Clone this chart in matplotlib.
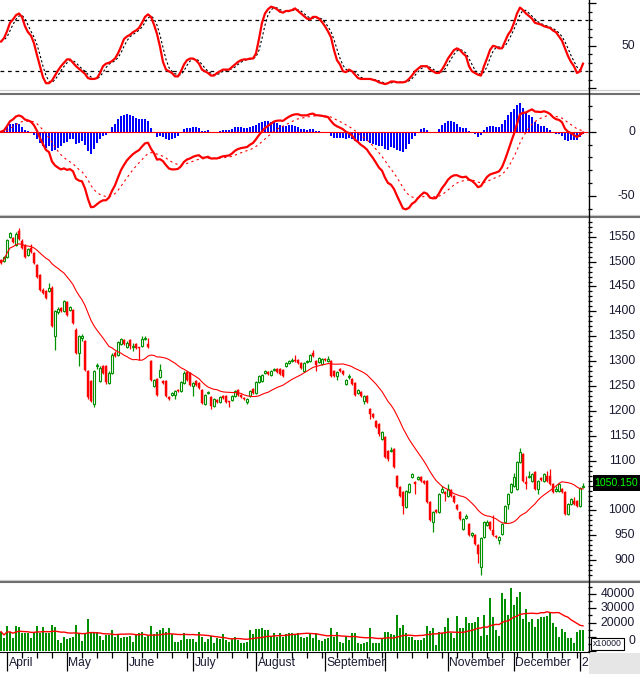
import numpy as np
import pandas as pd
import matplotlib
matplotlib.use('Agg')
import matplotlib.pyplot as plt
from matplotlib.lines import Line2D
from matplotlib.patches import Rectangle

plt.rcParams['font.family'] = ['Liberation Sans', 'DejaVu Sans']

# daily candles, end of March -> first days of January
opens = [
    1503, 1502, 1510, 1550, 1547, 1533, 1562, 1542, 1533, 1513,
    1527, 1517, 1493, 1473, 1443, 1440, 1440, 1447, 1350, 1398,
    1407, 1400, 1418, 1403, 1402, 1363, 1316, 1346, 1340, 1280,
    1260, 1213, 1290, 1261, 1290, 1290, 1257, 1277, 1317, 1313,
    1335, 1343, 1329, 1343, 1328, 1335, 1328, 1330, 1344, 1335,
    1300, 1250, 1265, 1268, 1260, 1260, 1227, 1232, 1233, 1243,
    1240, 1257, 1278, 1277, 1250, 1260, 1257, 1243, 1213, 1236,
    1227, 1210, 1221, 1217, 1230, 1230, 1219, 1222, 1230, 1242,
    1233, 1225, 1218, 1230, 1245, 1237, 1258, 1260, 1276, 1278,
    1273, 1283, 1285, 1285, 1282, 1290, 1296, 1301, 1303, 1302,
    1297, 1280, 1298, 1300, 1317, 1300, 1299, 1295, 1305, 1300,
    1300, 1280, 1270, 1285, 1280, 1255, 1268, 1265, 1257, 1236,
    1239, 1220, 1231, 1203, 1193, 1180, 1173, 1143, 1147, 1120,
    1119, 1123, 1070, 1047, 1037, 1007, 1037, 1067, 1057, 1064,
    1067, 1060, 1060, 1017, 977, 1001, 997, 1037, 1038, 1030,
    1042, 1030, 1011, 997, 963, 985, 973, 950, 950, 930,
    887, 947, 970, 977, 960, 948, 940, 953, 977, 1013,
    1037, 1050, 1043, 1097, 1113, 1057, 1067, 1060, 1077, 1043,
    1065, 1060, 1070, 1070, 1053, 1040, 1040, 1043, 1037, 993,
    1013, 1020, 1020, 1010, 1047]
highs = [
    1506, 1512, 1545, 1560, 1549, 1560, 1567, 1545, 1536, 1527,
    1535, 1520, 1495, 1476, 1446, 1442, 1457, 1450, 1403, 1408,
    1409, 1422, 1420, 1410, 1404, 1366, 1352, 1355, 1342, 1283,
    1263, 1283, 1297, 1290, 1293, 1292, 1280, 1316, 1320, 1340,
    1347, 1345, 1340, 1345, 1336, 1337, 1329, 1350, 1350, 1347,
    1302, 1265, 1267, 1295, 1262, 1262, 1229, 1239, 1242, 1245,
    1260, 1280, 1281, 1279, 1259, 1262, 1259, 1245, 1235, 1240,
    1229, 1225, 1223, 1229, 1232, 1232, 1220, 1232, 1242, 1244,
    1235, 1227, 1225, 1242, 1247, 1261, 1273, 1275, 1283, 1280,
    1282, 1287, 1287, 1287, 1284, 1299, 1302, 1306, 1313, 1304,
    1299, 1299, 1303, 1315, 1323, 1302, 1309, 1306, 1307, 1310,
    1302, 1282, 1280, 1287, 1282, 1265, 1274, 1267, 1259, 1244,
    1241, 1233, 1233, 1205, 1195, 1182, 1175, 1160, 1149, 1122,
    1127, 1125, 1072, 1049, 1039, 1042, 1055, 1075, 1059, 1069,
    1069, 1062, 1062, 1019, 999, 1003, 1035, 1049, 1040, 1053,
    1044, 1032, 1013, 999, 985, 992, 975, 957, 952, 932,
    947, 979, 980, 979, 990, 950, 948, 975, 1012, 1035,
    1055, 1075, 1099, 1125, 1115, 1070, 1080, 1075, 1079, 1062,
    1067, 1075, 1080, 1083, 1055, 1050, 1055, 1045, 1039, 1015,
    1025, 1027, 1022, 1047, 1056]
lows = [
    1495, 1500, 1508, 1548, 1538, 1531, 1543, 1525, 1508, 1511,
    1518, 1495, 1468, 1440, 1434, 1425, 1438, 1368, 1323, 1395,
    1398, 1398, 1390, 1400, 1375, 1314, 1290, 1340, 1280, 1224,
    1217, 1207, 1285, 1258, 1275, 1255, 1255, 1275, 1308, 1311,
    1333, 1333, 1327, 1325, 1320, 1325, 1303, 1328, 1342, 1326,
    1261, 1248, 1231, 1266, 1254, 1227, 1222, 1230, 1223, 1238,
    1238, 1255, 1261, 1250, 1230, 1250, 1245, 1213, 1211, 1234,
    1203, 1208, 1216, 1215, 1223, 1216, 1208, 1220, 1228, 1231,
    1225, 1221, 1214, 1228, 1235, 1235, 1256, 1258, 1274, 1273,
    1271, 1281, 1276, 1273, 1269, 1288, 1294, 1299, 1298, 1295,
    1285, 1278, 1296, 1298, 1308, 1280, 1296, 1293, 1300, 1298,
    1269, 1268, 1263, 1278, 1273, 1253, 1265, 1253, 1231, 1234,
    1228, 1213, 1216, 1183, 1185, 1165, 1150, 1141, 1105, 1100,
    1117, 1085, 1045, 1028, 993, 1005, 1035, 1065, 1033, 1062,
    1058, 1053, 1015, 978, 957, 995, 995, 1035, 1020, 1028,
    1028, 1016, 1001, 981, 961, 983, 948, 947, 931, 895,
    870, 945, 968, 961, 948, 944, 933, 951, 975, 1003,
    1035, 1048, 1041, 1095, 1058, 1043, 1065, 1058, 1041, 1033,
    1060, 1058, 1058, 1051, 1035, 1038, 1038, 1035, 991, 990,
    1011, 1011, 1008, 1008, 1045]
closes = [
    1498, 1510, 1543, 1558, 1540, 1556, 1545, 1527, 1510, 1525,
    1520, 1497, 1470, 1442, 1437, 1427, 1447, 1370, 1400, 1405,
    1400, 1420, 1393, 1408, 1377, 1316, 1350, 1351, 1283, 1227,
    1220, 1280, 1292, 1287, 1277, 1258, 1277, 1313, 1310, 1338,
    1345, 1335, 1337, 1330, 1331, 1327, 1326, 1345, 1347, 1328,
    1263, 1263, 1233, 1283, 1257, 1230, 1224, 1237, 1240, 1240,
    1258, 1277, 1263, 1252, 1257, 1252, 1247, 1215, 1233, 1238,
    1210, 1223, 1218, 1227, 1225, 1218, 1217, 1230, 1240, 1233,
    1227, 1223, 1223, 1240, 1237, 1259, 1271, 1273, 1280, 1275,
    1280, 1285, 1278, 1275, 1271, 1297, 1300, 1302, 1300, 1297,
    1287, 1297, 1300, 1313, 1310, 1293, 1306, 1304, 1302, 1305,
    1271, 1270, 1278, 1280, 1275, 1263, 1270, 1255, 1233, 1242,
    1230, 1231, 1218, 1193, 1187, 1167, 1153, 1157, 1107, 1103,
    1122, 1087, 1047, 1030, 1010, 1040, 1053, 1073, 1053, 1067,
    1060, 1055, 1017, 980, 997, 997, 1033, 1043, 1033, 1043,
    1030, 1018, 1003, 983, 983, 989, 950, 955, 933, 913,
    945, 977, 977, 963, 950, 946, 946, 973, 1010, 1033,
    1053, 1067, 1097, 1117, 1060, 1053, 1070, 1073, 1043, 1060,
    1062, 1073, 1060, 1053, 1037, 1043, 1053, 1037, 993, 1013,
    1023, 1013, 1010, 1045, 1050.15]
# volume in units of 10000 shares
volumes = [
    13600, 8900, 17500, 13600, 8900, 17500, 17100, 12900, 12400, 12400,
    8900, 12900, 17500, 12900, 17100, 12900, 12900, 18300, 16600, 7700,
    5400, 10100, 8200, 8900, 10100, 18300, 12900, 7300, 12900, 22200,
    13600, 13100, 13100, 10800, 7700, 11200, 11200, 14700, 10100, 11200,
    8900, 9600, 9600, 10500, 6600, 11200, 12400, 13600, 10100, 11200,
    17500, 11900, 13600, 14700, 15900, 13600, 15900, 11900, 6600, 6600,
    7700, 12400, 8200, 8200, 8200, 6600, 13100, 10100, 6600, 8200,
    10500, 5900, 8900, 8200, 11900, 7700, 6600, 8200, 9600, 7700,
    5900, 5900, 6600, 14700, 11900, 15200, 15200, 15900, 14700, 14700,
    10100, 12900, 10100, 12400, 10100, 11900, 12900, 12400, 11900, 12900,
    10100, 8900, 10100, 11900, 8900, 12900, 7700, 7300, 8200, 8900,
    15900, 9600, 13600, 6600, 5900, 10500, 7700, 12900, 12900, 5900,
    4700, 5900, 6600, 15900, 5400, 5900, 5400, 8200, 13600, 13100,
    11900, 11200, 25300, 15900, 18300, 12400, 10100, 10100, 7700, 7700,
    7700, 8900, 17500, 14300, 15900, 4200, 13600, 12900, 17100, 22900,
    12400, 8900, 24600, 15900, 15900, 23600, 19400, 19400, 20600, 24100,
    10500, 25300, 11200, 37000, 24100, 14700, 10500, 40500, 36500, 25300,
    44000, 32300, 38100, 41600, 22200, 29200, 20600, 22200, 17100, 22200,
    23600, 24100, 24600, 27100, 19900, 17100, 10100, 15200, 13600, 8900,
    8900, 5900, 13600, 14700, 14700]
# stochastic %K as printed in the top panel
stoch_k = [
    55, 59, 67, 77, 81, 86, 88, 84, 73, 66,
    62, 53, 39, 26, 13, 6, 6, 9, 15, 21,
    26, 30, 34, 34, 30, 26, 23, 20, 17, 12,
    11, 11, 12, 18, 26, 29, 30, 32, 35, 41,
    49, 58, 61, 63, 66, 68, 71, 77, 84, 87,
    84, 75, 64, 49, 31, 22, 20, 18, 14, 14,
    20, 28, 33, 35, 35, 33, 29, 22, 20, 18,
    15, 15, 18, 20, 22, 22, 22, 25, 28, 31,
    33, 34, 34, 35, 35, 41, 58, 77, 88, 93,
    96, 95, 93, 90, 89, 91, 91, 92, 94, 91,
    88, 85, 82, 81, 84, 84, 82, 78, 73, 67,
    60, 45, 33, 28, 20, 19, 22, 20, 16, 12,
    11, 11, 11, 11, 10, 9, 7, 6, 5, 6,
    8, 8, 7, 7, 7, 8, 11, 15, 20, 23,
    26, 26, 26, 22, 20, 18, 18, 22, 28, 35,
    40, 45, 47, 45, 41, 38, 26, 20, 18, 16,
    15, 26, 35, 45, 50, 49, 47, 47, 55, 63,
    68, 77, 88, 95, 92, 88, 85, 82, 77, 76,
    75, 73, 72, 71, 68, 66, 61, 56, 47, 38,
    31, 26, 18, 20, 29]

# first bar of each month and the label printed under it
month_starts = [2, 22, 42, 64, 85, 108, 128, 149, 171, 193]
month_labels = ['April', 'May', 'June', 'July', 'August', 'September', '',
                'November', 'December', '2']

RED = '#ff0000'
GREEN = '#009000'
BLUE = '#0000ff'
TXT = '#1a1a33'

df = pd.DataFrame({'open': opens, 'high': highs, 'low': lows,
                   'close': closes, 'vol': volumes, 'k': stoch_k})
n = len(df)
x = np.arange(n)

# indicators
ma20 = df['close'].rolling(20, min_periods=1).mean()
vol_ma = df['vol'].rolling(20, min_periods=1).mean()
ema12 = df['close'].ewm(span=12, adjust=False).mean()
ema26 = df['close'].ewm(span=26, adjust=False).mean()
macd = ema12 - ema26
signal = macd.ewm(span=9, adjust=False).mean()
hist = macd - signal
stoch_d = df['k'].rolling(3, min_periods=1).mean()

W, H = 640, 674
fig = plt.figure(figsize=(W / 100, H / 100), dpi=100)
fig.patch.set_facecolor('white')


def box(top, bot, left=0, right=588):
    return [left / W, 1 - bot / H, (right - left) / W, (bot - top) / H]


def calib(top, bot, v1, p1, v2, p2):
    # y limits of a panel from two (value, pixel row) pairs
    k = (v1 - v2) / (p2 - p1)
    return (v1 - (bot - p1) * k, v1 + (p1 - top) * k)


ax_st = fig.add_axes(box(0, 89))
ax_md = fig.add_axes(box(95, 214))
ax_pr = fig.add_axes(box(218, 579))
ax_vo = fig.add_axes(box(583, 652))

ax_st.set_ylim(*calib(0, 89, 100, 3.3, 0, 88.3))
ax_md.set_ylim(*calib(95, 214, 0, 131.7, -50, 196))
ax_pr.set_ylim(*calib(218, 579, 1550, 236.7, 1000, 510.5))
ax_vo.set_ylim(*calib(583, 652, 40000, 594, 0, 651))

# stochastic
ax_st.axhline(80, color='black', lw=0.9, ls=(0, (3, 3)))
ax_st.axhline(20, color='black', lw=0.9, ls=(0, (3, 3)))
ax_st.plot(x, stoch_d, color='black', lw=0.8, ls=(0, (2, 2)))
ax_st.plot(x, df['k'], color=RED, lw=1.6)

# macd
ax_md.bar(x, hist, width=0.62, color=BLUE, lw=0)
ax_md.axhline(0, color=RED, lw=0.8)
ax_md.plot(x, signal, color=RED, lw=0.8, ls=(0, (2, 3)))
ax_md.plot(x, macd, color=RED, lw=1.6)

# candles
up = (df['close'] >= df['open']).values
body_lo = np.minimum(df['open'], df['close']).values
body_h = np.maximum(np.abs(df['close'] - df['open']).values, 0.8)
wick_col = np.where(up, GREEN, RED)
ax_pr.vlines(x, df['low'], df['high'], colors=wick_col, lw=0.9, zorder=2)
ax_pr.bar(x[up], body_h[up], bottom=body_lo[up], width=0.66,
          facecolor='white', edgecolor=GREEN, lw=0.8, zorder=3)
ax_pr.bar(x[~up], body_h[~up], bottom=body_lo[~up], width=0.86,
          facecolor=RED, edgecolor=RED, lw=0.3, zorder=3)
ax_pr.plot(x, ma20, color=RED, lw=0.8, zorder=4)

# volume
ax_vo.bar(x, df['vol'], width=0.66, color=GREEN, lw=0)
ax_vo.plot(x, vol_ma, color=RED, lw=1.0)

price_labels = [v for v in range(900, 1551, 50) if v != 1050]  # 1050 sits under the price tag
right_labels = {
    ax_st: ([0, 50, 100], np.arange(0, 101, 10), [50]),
    ax_md: ([-50, 0], np.arange(-60, 21, 10), [0, -50]),
    ax_pr: (np.arange(900, 1551, 50), np.arange(870, 1581, 10), price_labels),
    ax_vo: (np.arange(0, 40001, 10000), np.arange(0, 45001, 5000), [40000, 30000, 20000]),
}

for ax, (majors, minors, labels) in right_labels.items():
    ax.set_xlim(-0.33, 195.67)
    for s in ax.spines.values():
        s.set_visible(False)
    ax.yaxis.tick_right()
    ax.set_yticks(majors)
    ax.set_yticks(minors, minor=True)
    ax.tick_params(axis='y', which='major', length=6, width=0.9, color='black',
                   labelright=False, labelleft=False)
    ax.tick_params(axis='y', which='minor', length=3, width=0.9, color='black')
    ax.set_xticks([])
    for v in labels:
        ax.text(1.08, v, str(v), transform=ax.get_yaxis_transform(),
                ha='right', va='center', fontsize=8.7, color=TXT, clip_on=False)

# month axis under the volume panel
ax_vo.spines['bottom'].set_visible(True)
ax_vo.spines['bottom'].set_color('black')
ax_vo.set_xticks(month_starts)
ax_vo.set_xticks([i for i in range(2, n, 5) if i not in month_starts], minor=True)
ax_vo.tick_params(axis='x', which='major', length=14, width=0.9, labelbottom=False)
ax_vo.tick_params(axis='x', which='minor', length=4, width=0.9)
for pos, lab in zip(month_starts, month_labels):
    ax_vo.text(pos + 0.5, -0.16, lab, transform=ax_vo.get_xaxis_transform(),
               ha='left', va='center', fontsize=8.7, color=TXT, clip_on=False)

# panel separators and right axis line
for light, dark in [(90, 93.5), (214.5, 216.8), (580, 582)]:
    fig.add_artist(Line2D([0, 1], [1 - light / H] * 2, color='#cfcfcf', lw=0.9))
    fig.add_artist(Line2D([0, 1], [1 - dark / H] * 2, color='#6f6f6f', lw=1.5))
fig.add_artist(Rectangle((589 / W, 0), 51 / W, 1 - 653 / H, facecolor='#e6e6e6',
                         edgecolor='none'))
fig.add_artist(Line2D([588.5 / W] * 2, [1 - 652 / H, 1], color='black', lw=1.0))

# last price tag
fig.add_artist(Rectangle((593 / W, 1 - 491 / H), 47 / W, 16 / H,
                         facecolor='black', edgecolor='none'))
fig.text(616.5 / W, 1 - 483 / H, '1050.150', ha='center', va='center',
         fontsize=7.6, color='#00ff00')

# volume scale: the x10000 box hides most of the 10000 label, only its end shows
fig.text(635 / W, 1 - 641 / H, '0', ha='right', va='center', fontsize=8.7, color=TXT)
fig.add_artist(Rectangle((591 / W, 1 - 650 / H), 33 / W, 12 / H,
                         facecolor='white', edgecolor='black', lw=0.8))
fig.text(607.5 / W, 1 - 644 / H, 'x10000', ha='center', va='center',
         fontsize=6.3, color=TXT)

fig.savefig('out.png', dpi=100)
